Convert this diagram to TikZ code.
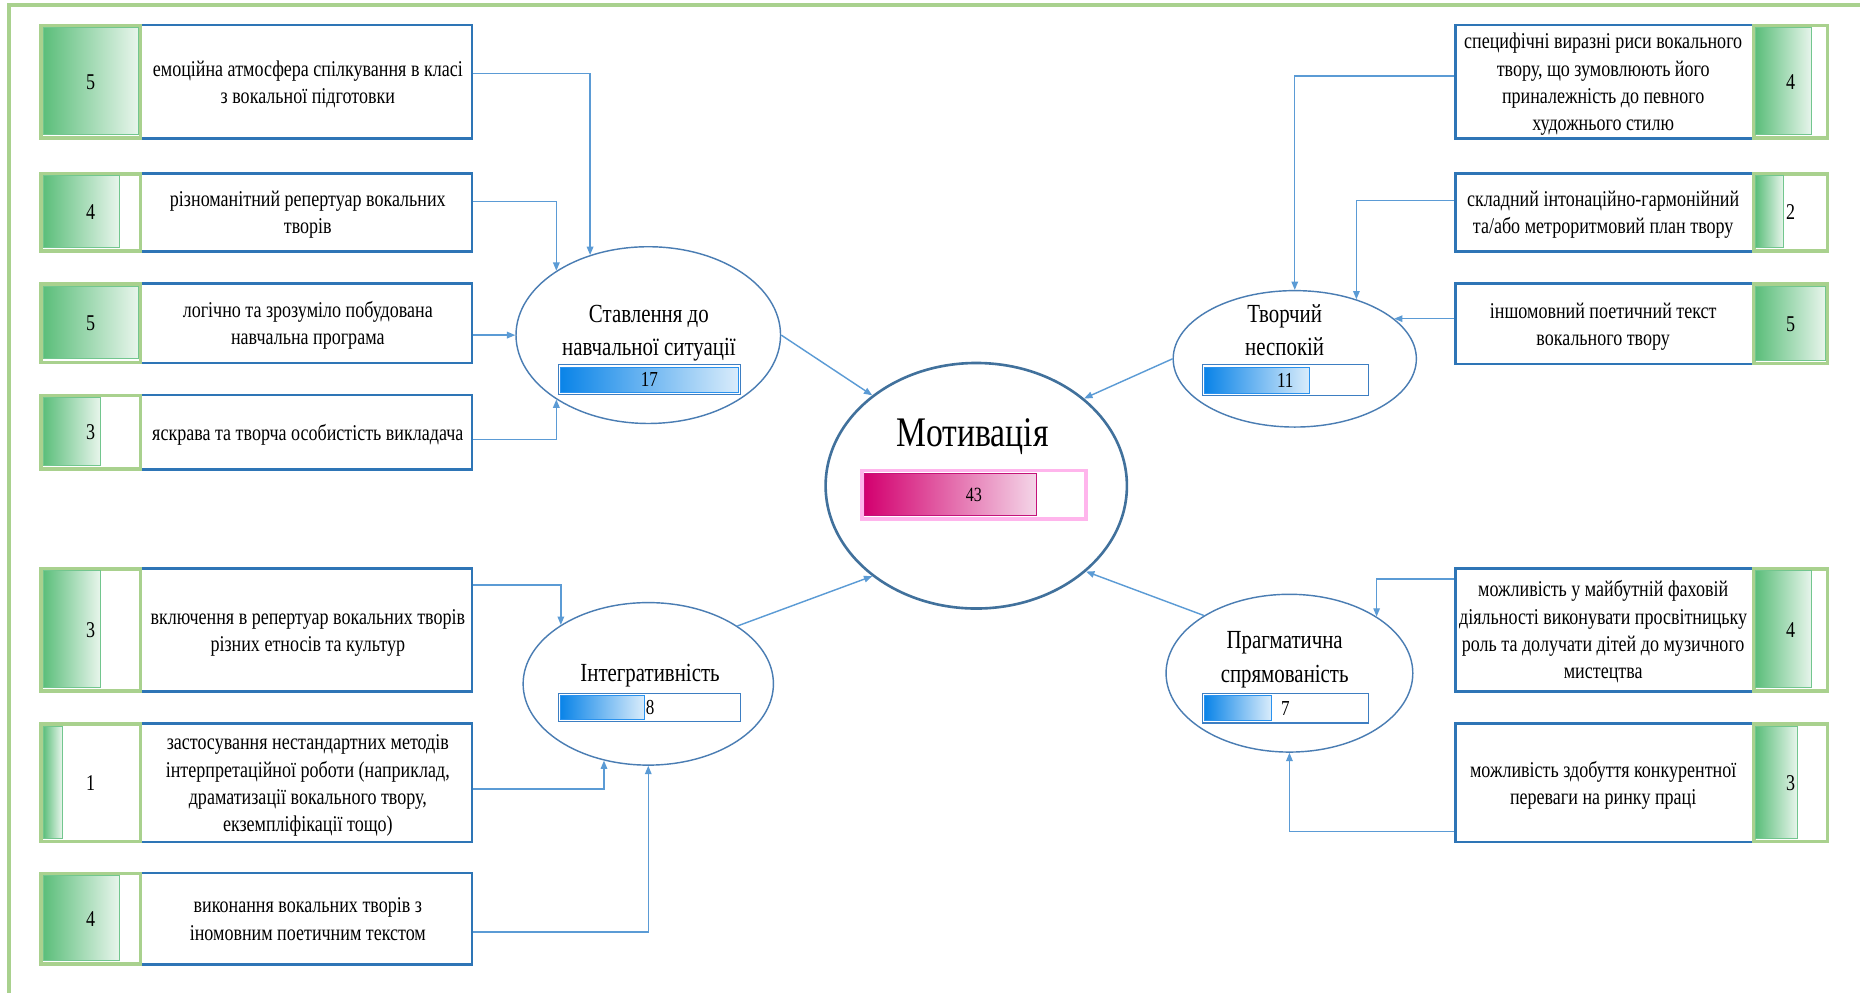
\documentclass[tikz,border=0pt]{standalone}
\usepackage{fontspec}
\setmainfont{Liberation Serif}[FakeStretch=0.8]
\usetikzlibrary{arrows.meta,calc,shapes.geometric}
\definecolor{framegreen}{HTML}{A9D18E}
\definecolor{boxblue}{HTML}{2E75B6}
\definecolor{linkblue}{HTML}{5B9BD5}
\definecolor{ellblue}{HTML}{4A7DB3}
\definecolor{centerblue}{HTML}{41719C}
\definecolor{fillgreenL}{HTML}{5BBE7A}
\definecolor{fillgreenR}{HTML}{E8F5EC}
\definecolor{fillgreenB}{HTML}{72C68E}
\definecolor{barblueL}{HTML}{0A84E8}
\definecolor{barblueR}{HTML}{D9ECFB}
\definecolor{barborder}{HTML}{3D7EC2}
\definecolor{barfillborder}{HTML}{2A92EE}
\definecolor{pinkL}{HTML}{D3006F}
\definecolor{pinkR}{HTML}{F4D6E8}
\definecolor{pinkborder}{HTML}{FFB5EC}
\definecolor{pinkfillborder}{HTML}{C4127A}
\newcommand\boxfont{\fontsize{19}{23}\selectfont}
\newcommand\titlefont{\fontsize{22}{28}\selectfont}
\newcommand\motfont{\fontsize{35.5}{41}\selectfont}
\newcommand\barfont{\fontsize{18}{22}\selectfont}
% left row: name, top, bottom, value, text
\newcommand\lrow[5]{%
  \node[txtbox, minimum width=278.9pt, minimum height={(#3-#2-2.2)*1pt}] (#1) at (258.45,{(#2+#3)/2}) {};
  \node[numbox, minimum width=84pt, minimum height={(#3-#2-3)*1pt}] (#1g) at (76.5,{(#2+#3)/2}) {};
  \draw[gfill] (36.3,{#2+3.2}) rectangle ({36.3+16.08*#4},{#3-4.5});
  \node[numtext] (#1n) at (76.5,{(#2+#3)/2}) {#4};
  \node[boxtext] (#1t) at (259.5,{(#2+#3)/2+2}) {#5};
}
% right row
\newcommand\rrow[5]{%
  \node[txtbox, minimum width=250.9pt, minimum height={(#3-#2-2.2)*1pt}] (#1) at (1352.55,{(#2+#3)/2}) {};
  \node[numbox, minimum width=62pt, minimum height={(#3-#2-3)*1pt}] (#1g) at (1509.5,{(#2+#3)/2}) {};
  \draw[gfill] (1480,{#2+3.2}) rectangle ({1480+11.8*#4},{#3-4.5});
  \node[numtext] (#1n) at (1509.5,{(#2+#3)/2}) {#4};
  \node[boxtext] (#1t) at (1351.5,{(#2+#3)/2+2}) {#5};
}
\begin{document}
\begin{tikzpicture}[x=1pt,y=-1pt,
  txtbox/.style={draw=boxblue, line width=2.2pt, fill=white, rectangle, inner sep=0pt},
  numbox/.style={draw=framegreen, line width=3pt, fill=white, rectangle, inner sep=0pt},
  gfill/.style={draw=fillgreenB, line width=0.8pt, left color=fillgreenL, right color=fillgreenR},
  boxtext/.style={font=\boxfont, align=center, inner sep=0pt, text=black},
  numtext/.style={font=\boxfont, inner sep=0pt},
  ell/.style={ellipse, draw=ellblue, line width=1.2pt, fill=white, inner sep=0pt},
  etitle/.style={font=\titlefont, align=center, inner sep=0pt},
  link/.style={draw=linkblue, line width=1.2pt, -{Triangle[length=7pt,width=5.5pt]}},
  barout/.style={draw=barborder, line width=1pt, fill=white},
  barin/.style={draw=barfillborder, line width=0.8pt, left color=barblueL, right color=barblueR},
  barnum/.style={font=\barfont, inner sep=0pt},
]
\useasboundingbox (0,0) rectangle (1568,837);
\fill[white] (0,0) rectangle (1568,837);
\draw[framegreen, line width=3pt] (7.5,845) -- (7.5,4) -- (1575,4);

% left column
\lrow{l1}{20}{118}{5}{\strut емоційна атмосфера спілкування в класі\\\strut з вокальної підготовки}
\lrow{l2}{145}{213}{4}{\strut різноманітний репертуар вокальних\\\strut творів}
\lrow{l3}{238}{307}{5}{\strut логічно та зрозуміло побудована\\\strut навчальна програма}
\lrow{l4}{332}{397}{3}{\strut яскрава та творча особистість викладача}
\lrow{l5}{478}{584}{3}{\strut включення в репертуар вокальних творів\\\strut різних етносів та культур}
\lrow{l6}{609}{711}{1}{\strut застосування нестандартних методів\\\strut інтерпретаційної роботи (наприклад,\\\strut драматизації вокального твору,\\\strut екземпліфікації тощо)}
\lrow{l7}{735}{814}{4}{\strut виконання вокальних творів з\\\strut іномовним поетичним текстом}

% right column
\rrow{r1}{20}{118}{4}{\strut специфічні виразні риси вокального\\\strut твору, що зумовлюють його\\\strut приналежність до певного\\\strut художнього стилю}
\rrow{r2}{145}{213}{2}{\strut складний інтонаційно-гармонійний\\\strut та/або метроритмовий план твору}
\rrow{r3}{238}{308}{5}{\strut іншомовний поетичний текст\\\strut вокального твору}
\rrow{r4}{478}{584}{4}{\strut можливість у майбутній фаховій\\\strut діяльності виконувати просвітницьку\\\strut роль та долучати дітей до музичного\\\strut мистецтва}
\rrow{r5}{609}{711}{3}{\strut можливість здобуття конкурентної\\\strut переваги на ринку праці}

% ellipses
\node[ell, minimum width=223pt, minimum height=149pt] (e1) at (546.5,282.5) {};
\node[ell, minimum width=205pt, minimum height=115pt] (e2) at (1091.5,302.5) {};
\node[ell, minimum width=211pt, minimum height=137pt] (e3) at (546.5,576.5) {};
\node[ell, minimum width=208pt, minimum height=133pt] (e4) at (1087,567.5) {};
\node[ell, draw=centerblue, line width=2.2pt, minimum width=254pt, minimum height=207pt] (e0) at (823,409.5) {};

% bars
\draw[barout] (470.5,307.5) rectangle (624.5,332.5);
\draw[barin] (472.5,309.5) rectangle (622.5,330.5);
\draw[barout] (1013.5,307.5) rectangle (1153.5,333.5);
\draw[barin] (1015.5,309.5) rectangle (1103.6,331.5);
\draw[barout] (470.5,584.5) rectangle (624.5,608.5);
\draw[barin] (472.5,586.5) rectangle (543,606.5);
\draw[barout] (1013.5,584.5) rectangle (1153.5,609.5);
\draw[barin] (1015.5,586.5) rectangle (1071.5,607.5);
\draw[draw=pinkborder, line width=3pt, fill=white] (726.5,396.5) rectangle (915.5,437.5);
\draw[draw=pinkfillborder, line width=0.8pt, left color=pinkL, right color=pinkR] (728.8,399.3) rectangle (874,434.7);

% titles
\node[etitle] (e1t) at (547,280) {\strut Ставлення до\\\strut навчальної ситуації};
\node[etitle] (e2t) at (1083,280) {\strut Творчий\\\strut неспокій};
\node[etitle] (e3t) at (548,569) {\strut Інтегративність};
\node[etitle] (e4t) at (1083,555.5) {\strut Прагматична\\\strut спрямованість};
\node[font=\motfont, inner sep=0pt] (e0t) at (820,368) {\strut Мотивація};

\node[barnum] (e1v) at (547.5,320) {17};
\node[barnum] (e2v) at (1083.5,320.5) {11};
\node[barnum] (e3v) at (548,596.5) {8};
\node[barnum] (e4v) at (1083.5,597) {7};
\node[font=\fontsize{17}{20}\selectfont, inner sep=0pt] (e0v) at (821,417) {43};

% connectors
\draw[link] ($(l1.east)+(0,-7)$) -| (e1.126.6);
\draw[link] ($(l2.east)+(0,-9)$) -| (e1.145.3);
\draw[link] (e1.west -| l3.east) -- (e1.west);
\draw[link] ($(l4.east)+(0,6)$) -| (e1.-145.3);
\draw[link] ($(l5.east)+(0,-38)$) -| (e3.146.9);
\draw[link] ($(l6.east)+(0,5)$) -| (e3.-120.7);
\draw[link] ($(l7.east)+(0,11)$) -| (e3.south);
\draw[link] ($(r1.west)+(0,-5)$) -| (e2.north);
\draw[link] ($(r2.west)+(0,-10)$) -| (e2.44.7);
\draw[link] (e2.22.8 -| r3.west) -- (e2.22.8);
\draw[link] ($(r4.west)+(0,-43)$) -| (e4.33.0);
\draw[link] ($(r5.west)+(0,41)$) -| (e4.south);
\draw[link] (e1.east) -- (e0.139.8);
\draw[link] (e2.west) -- (e0.39.1);
\draw[link] (e3.33.1) -- (e0.-139.9);
\draw[link] (e4.146.4) -- (e0.-38.3);
\end{tikzpicture}
\end{document}
